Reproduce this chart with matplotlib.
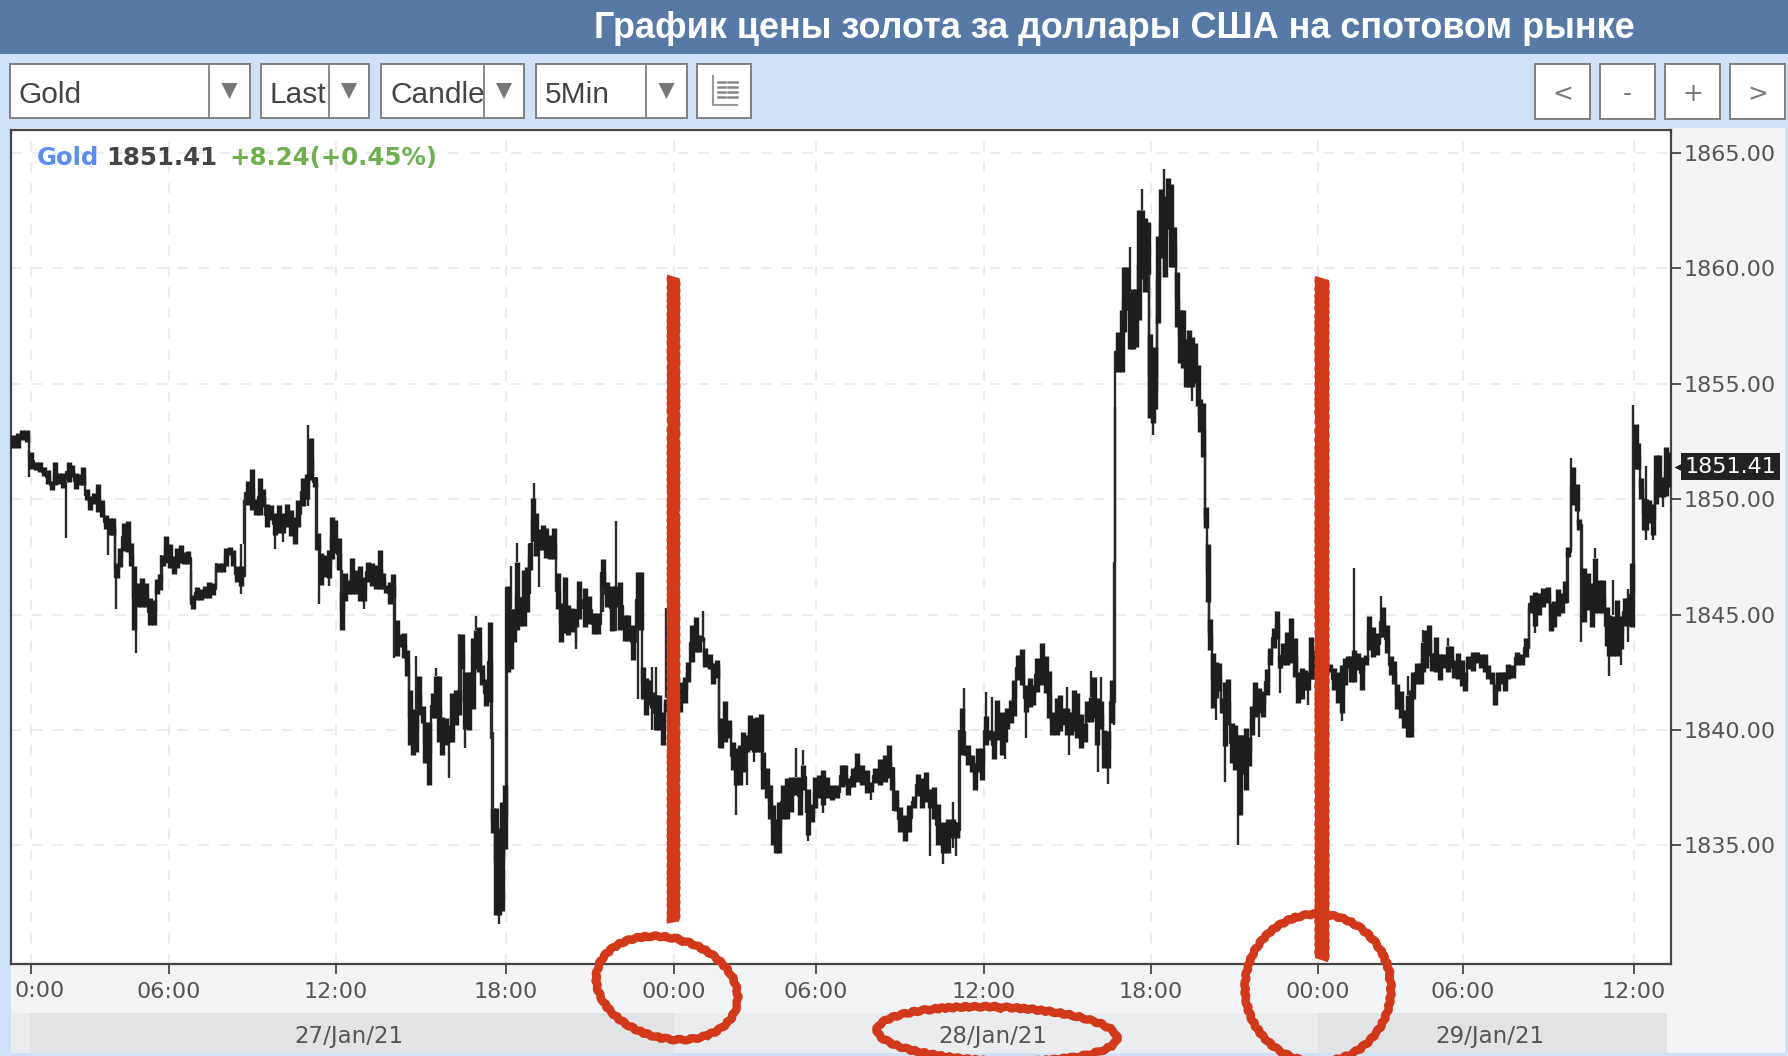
import matplotlib
matplotlib.use('Agg')
import matplotlib.pyplot as plt
from matplotlib.patches import Rectangle, Ellipse, Polygon

# chart values
# x is a time slot along the category axis (sessions have gaps, so ticks are uneven)
tick_slots = [31, 169, 336, 506, 674, 816, 984, 1151, 1318, 1463, 1634]
tick_labels = ['', '06:00', '12:00', '18:00', '00:00', '06:00', '12:00', '18:00', '00:00', '06:00', '12:00']
price_ticks = [1835, 1840, 1845, 1850, 1855, 1860, 1865]
price_min, price_max = 1829.86, 1866.0
slot_min, slot_max = 11, 1671
day_edges = [30, 674, 1318, 1667]
day_labels = ['27/Jan/21', '28/Jan/21', '29/Jan/21']
last_price = 1851.41
change_text = '+8.24(+0.45%)'

bar_x = [13, 18, 22, 27, 31, 36, 40, 44, 48, 52,
         55, 59, 63, 69, 72, 76, 80, 83, 87, 90,
         94, 98, 102, 106, 110, 113, 117, 120, 124, 128,
         131, 134, 138, 142, 146, 150, 154, 157, 160, 163,
         166, 170, 174, 177, 181, 184, 188, 193, 197, 201,
         205, 209, 213, 219, 223, 226, 230, 233, 237, 241,
         248, 252, 256, 260, 263, 267, 271, 275, 279, 283,
         287, 291, 295, 298, 303, 307, 311, 315, 318, 321,
         325, 329, 332, 335, 339, 342, 345, 349, 352, 356,
         360, 364, 368, 372, 376, 380, 383, 386, 390, 393,
         397, 400, 404, 407, 410, 413, 416, 419, 423, 425,
         429, 433, 436, 439, 442, 446, 449, 452, 456, 459,
         462, 465, 469, 473, 476, 479, 482, 486, 490, 493,
         496, 499, 502, 505, 508, 511, 514, 517, 520, 524,
         527, 530, 533, 536, 539, 543, 546, 550, 554, 558,
         561, 565, 568, 572, 576, 579, 585, 589, 594, 598,
         603, 607, 612, 616, 620, 625, 628, 633, 638, 641,
         643, 646, 649, 652, 656, 659, 663, 666, 669, 672,
         676, 680, 682, 685, 688, 692, 696, 699, 702, 705,
         710, 713, 717, 721, 725, 729, 733, 736, 740, 743,
         747, 750, 754, 757, 761, 763, 767, 770, 773, 776,
         779, 783, 787, 791, 796, 800, 803, 808, 812, 815,
         819, 823, 827, 832, 837, 842, 845, 848, 853, 857,
         862, 867, 871, 875, 880, 885, 889, 892, 896, 900,
         905, 909, 914, 918, 922, 926, 930, 934, 938, 943,
         948, 953, 957, 962, 968, 972, 975, 978, 982, 986,
         990, 994, 997, 1002, 1005, 1007, 1011, 1014, 1018, 1022,
         1026, 1030, 1033, 1037, 1042, 1046, 1049, 1052, 1057, 1060,
         1063, 1067, 1071, 1074, 1077, 1081, 1085, 1087, 1091, 1094,
         1097, 1101, 1104, 1108, 1112, 1118, 1122, 1124, 1127, 1130,
         1133, 1136, 1139, 1142, 1145, 1148, 1150, 1153, 1155, 1158,
         1161, 1165, 1168, 1171, 1174, 1177, 1180, 1183, 1186, 1189,
         1192, 1195, 1198, 1200, 1203, 1206, 1208, 1210, 1213, 1216,
         1219, 1222, 1225, 1228, 1232, 1235, 1238, 1240, 1243, 1246,
         1249, 1252, 1255, 1259, 1263, 1267, 1270, 1274, 1277, 1280,
         1283, 1287, 1291, 1295, 1298, 1302, 1305, 1308, 1311, 1314,
         1317, 1321, 1326, 1330, 1334, 1338, 1342, 1345, 1348, 1351,
         1354, 1358, 1362, 1366, 1369, 1373, 1377, 1383, 1387, 1391,
         1394, 1397, 1401, 1404, 1408, 1411, 1413, 1417, 1421, 1423,
         1426, 1429, 1432, 1436, 1440, 1443, 1448, 1451, 1454, 1458,
         1462, 1465, 1468, 1473, 1477, 1481, 1485, 1488, 1492, 1495,
         1498, 1502, 1505, 1508, 1513, 1517, 1522, 1526, 1532, 1535,
         1539, 1543, 1548, 1551, 1554, 1558, 1562, 1565, 1568, 1573,
         1577, 1579, 1584, 1588, 1592, 1595, 1599, 1603, 1607, 1609,
         1613, 1617, 1621, 1625, 1628, 1632, 1636, 1638, 1641, 1644,
         1646, 1649, 1653, 1656, 1659, 1663, 1666, 1669]

bar_high = [1852.8, 1852.85, 1853.0, 1853.0, 1852.05, 1851.6, 1851.6, 1851.4, 1851.25, 1850.8,
            1851.6, 1851.15, 1851.15, 1851.6, 1851.5, 1851.15, 1851.1, 1851.4, 1850.45, 1850.15,
            1850.25, 1850.65, 1849.95, 1849.3, 1849.2, 1849.2, 1847.25, 1847.9, 1848.95, 1849.05,
            1848.1, 1847.1, 1846.35, 1846.6, 1846.35, 1845.7, 1845.65, 1846.55, 1846.75, 1847.6,
            1848.4, 1848.05, 1847.55, 1847.9, 1848.0, 1847.7, 1847.75, 1845.85, 1846.2, 1846.1,
            1846.25, 1846.4, 1846.35, 1847.25, 1847.25, 1847.9, 1847.95, 1847.8, 1847.1, 1847.1,
            1850.8, 1851.3, 1850.0, 1850.9, 1850.45, 1849.8, 1849.75, 1849.4, 1849.75, 1849.4,
            1849.8, 1849.55, 1849.25, 1849.95, 1850.9, 1851.1, 1852.65, 1850.95, 1848.55, 1847.65,
            1847.6, 1847.8, 1849.25, 1849.1, 1848.3, 1846.0, 1846.8, 1846.5, 1847.45, 1846.95,
            1847.1, 1846.65, 1847.3, 1847.25, 1847.15, 1847.8, 1846.8, 1846.3, 1846.4, 1846.75,
            1844.75, 1844.15, 1844.2, 1843.45, 1841.75, 1840.9, 1840.9, 1842.35, 1841.05, 1840.35,
            1840.35, 1841.6, 1842.35, 1842.35, 1840.55, 1840.5, 1840.2, 1841.6, 1841.75, 1841.75,
            1844.15, 1842.5, 1842.5, 1844.0, 1844.35, 1844.45, 1842.8, 1842.2, 1844.7, 1836.6,
            1836.6, 1835.75, 1836.9, 1837.6, 1846.25, 1845.25, 1845.25, 1847.3, 1845.75, 1846.95,
            1847.05, 1848.1, 1850.05, 1849.4, 1848.7, 1848.9, 1848.75, 1848.45, 1848.75, 1846.8,
            1845.5, 1846.65, 1845.4, 1845.3, 1845.1, 1846.45, 1846.15, 1845.8, 1845.05, 1845.05,
            1847.4, 1846.4, 1846.25, 1846.25, 1846.4, 1845.0, 1845.0, 1844.55, 1846.85, 1846.85,
            1842.75, 1842.25, 1842.15, 1841.65, 1841.5, 1841.5, 1840.8, 1841.35, 1844.25, 1843.1,
            1842.25, 1842.1, 1841.95, 1842.3, 1842.95, 1844.55, 1844.9, 1844.1, 1844.05, 1843.55,
            1843.3, 1842.9, 1843.05, 1840.5, 1841.25, 1840.45, 1839.5, 1839.2, 1839.35, 1839.9,
            1839.8, 1840.65, 1840.5, 1840.55, 1840.7, 1839.05, 1838.35, 1837.6, 1836.75, 1836.15,
            1836.9, 1837.6, 1837.9, 1837.95, 1837.95, 1837.95, 1838.5, 1837.45, 1836.8, 1837.95,
            1838.05, 1838.25, 1837.95, 1837.6, 1837.6, 1838.5, 1838.5, 1837.9, 1838.35, 1839.0,
            1838.5, 1838.25, 1837.75, 1838.35, 1838.75, 1838.9, 1839.35, 1838.4, 1837.4, 1836.65,
            1836.3, 1836.75, 1837.15, 1838.1, 1837.9, 1838.2, 1837.45, 1837.55, 1836.8, 1836.0,
            1836.15, 1836.15, 1836.0, 1840.95, 1839.35, 1838.9, 1838.55, 1839.2, 1839.2, 1840.6,
            1840.0, 1839.95, 1841.3, 1840.8, 1840.45, 1840.95, 1841.3, 1842.15, 1843.25, 1843.5,
            1841.95, 1842.25, 1841.95, 1843.1, 1843.75, 1843.2, 1842.55, 1840.8, 1841.4, 1841.5,
            1840.95, 1840.95, 1840.8, 1841.75, 1841.6, 1840.7, 1840.3, 1841.25, 1841.45, 1842.3,
            1841.4, 1841.25, 1840.0, 1839.95, 1842.15, 1857.25, 1858.2, 1860.05, 1860.05, 1859.0,
            1859.1, 1859.1, 1862.55, 1862.55, 1862.2, 1862.0, 1857.15, 1856.4, 1856.6, 1861.4,
            1863.45, 1863.15, 1863.9, 1863.65, 1861.8, 1859.85, 1858.2, 1858.2, 1856.95, 1857.35,
            1857.05, 1856.75, 1855.8, 1854.35, 1854.15, 1849.65, 1848.05, 1844.8, 1843.35, 1842.95,
            1842.9, 1841.4, 1842.1, 1842.2, 1840.3, 1840.2, 1839.8, 1839.8, 1839.8, 1840.1,
            1839.7, 1841.05, 1842.1, 1841.8, 1841.7, 1842.65, 1843.55, 1844.4, 1845.15, 1843.25,
            1843.75, 1844.25, 1844.85, 1844.0, 1842.5, 1842.7, 1842.6, 1842.5, 1844.05, 1843.45,
            1842.7, 1843.45, 1843.55, 1842.85, 1842.7, 1842.5, 1842.8, 1843.1, 1843.2, 1843.2,
            1843.45, 1843.35, 1843.15, 1843.25, 1844.95, 1844.45, 1844.2, 1845.35, 1844.55, 1843.2,
            1843.0, 1842.0, 1841.7, 1840.85, 1841.5, 1841.75, 1842.5, 1842.9, 1842.9, 1843.8,
            1844.35, 1844.55, 1843.35, 1844.05, 1843.3, 1843.3, 1843.65, 1843.65, 1843.05, 1843.35,
            1843.05, 1842.5, 1843.2, 1843.4, 1843.4, 1843.3, 1843.3, 1842.8, 1842.5, 1842.0,
            1842.5, 1842.5, 1842.5, 1842.85, 1842.8, 1843.4, 1843.3, 1844.0, 1845.85, 1846.0,
            1845.95, 1846.15, 1846.2, 1845.5, 1845.6, 1846.1, 1845.95, 1846.45, 1847.95, 1851.4,
            1850.65, 1849.15, 1847.0, 1846.8, 1846.35, 1847.45, 1846.5, 1846.5, 1845.35, 1845.0,
            1844.95, 1845.65, 1844.95, 1845.7, 1845.7, 1847.25, 1853.25, 1852.45, 1850.9, 1850.05,
            1850.0, 1849.95, 1849.8, 1851.9, 1851.9, 1850.95, 1852.25, 1852.05]

bar_low = [1852.2, 1852.2, 1852.55, 1852.5, 1851.3, 1851.25, 1851.2, 1851.0, 1850.65, 1850.4,
           1850.6, 1850.65, 1850.5, 1850.75, 1850.95, 1850.45, 1850.6, 1850.6, 1849.95, 1849.55,
           1849.8, 1849.45, 1849.25, 1848.7, 1848.45, 1848.45, 1846.6, 1847.05, 1847.75, 1847.7,
           1847.1, 1844.35, 1845.35, 1845.35, 1845.35, 1844.55, 1844.55, 1845.9, 1846.05, 1847.1,
           1847.25, 1847.0, 1846.75, 1847.0, 1847.25, 1847.2, 1847.2, 1845.25, 1845.65, 1845.65,
           1845.7, 1845.7, 1845.85, 1846.85, 1846.85, 1847.1, 1847.6, 1847.1, 1846.4, 1846.25,
           1849.75, 1849.55, 1849.3, 1849.3, 1849.65, 1848.8, 1849.1, 1848.45, 1848.55, 1848.55,
           1848.8, 1848.4, 1848.05, 1848.8, 1849.7, 1850.0, 1850.85, 1850.55, 1847.8, 1846.3,
           1846.65, 1846.6, 1847.4, 1847.65, 1846.95, 1844.35, 1845.6, 1845.9, 1845.9, 1845.9,
           1845.6, 1845.6, 1846.4, 1846.25, 1846.1, 1846.1, 1846.1, 1845.95, 1845.45, 1845.75,
           1843.2, 1843.6, 1843.1, 1842.35, 1839.35, 1838.9, 1839.05, 1840.65, 1840.3, 1838.55,
           1837.6, 1840.5, 1840.5, 1839.5, 1838.9, 1839.35, 1839.5, 1839.5, 1840.2, 1840.65,
           1842.65, 1840.05, 1840.0, 1840.9, 1842.65, 1842.5, 1841.95, 1841.05, 1841.2, 1835.55,
           1832.0, 1832.0, 1832.15, 1834.85, 1842.5, 1842.65, 1843.8, 1844.35, 1844.5, 1844.5,
           1845.1, 1846.95, 1848.2, 1847.55, 1847.8, 1847.8, 1847.45, 1847.4, 1847.4, 1845.25,
           1843.8, 1844.2, 1844.1, 1844.25, 1844.45, 1844.8, 1844.45, 1844.6, 1844.15, 1844.15,
           1846.2, 1845.35, 1844.3, 1845.35, 1844.35, 1843.85, 1843.85, 1843.05, 1844.4, 1844.35,
           1841.35, 1840.65, 1841.1, 1840.95, 1840.0, 1840.0, 1839.35, 1840.8, 1842.1, 1841.35,
           1840.95, 1840.8, 1841.2, 1841.15, 1842.1, 1842.95, 1843.4, 1843.4, 1843.85, 1842.75,
           1842.65, 1842.0, 1842.25, 1839.2, 1839.5, 1839.65, 1838.25, 1837.6, 1837.6, 1838.2,
           1839.05, 1839.15, 1839.05, 1839.05, 1839.05, 1837.45, 1837.05, 1836.15, 1835.0, 1834.65,
           1834.65, 1836.15, 1836.15, 1836.45, 1837.2, 1836.3, 1837.4, 1835.45, 1836.0, 1836.6,
           1837.05, 1836.75, 1837.05, 1836.95, 1837.05, 1837.55, 1837.6, 1837.2, 1837.55, 1837.75,
           1837.6, 1837.25, 1837.3, 1837.7, 1837.6, 1837.75, 1837.9, 1837.4, 1836.5, 1835.6,
           1835.2, 1835.6, 1836.6, 1837.15, 1836.6, 1836.9, 1836.6, 1836.15, 1835.0, 1834.65,
           1834.65, 1835.3, 1835.3, 1838.9, 1838.5, 1838.2, 1837.4, 1838.2, 1837.85, 1839.35,
           1839.55, 1838.75, 1839.55, 1838.9, 1839.5, 1840.05, 1840.3, 1840.6, 1842.15, 1841.95,
           1840.8, 1841.0, 1841.1, 1841.65, 1841.95, 1841.6, 1840.5, 1839.8, 1839.8, 1839.95,
           1840.2, 1839.8, 1839.8, 1839.95, 1839.65, 1839.2, 1839.5, 1840.35, 1840.35, 1840.5,
           1839.35, 1840.05, 1838.35, 1838.35, 1840.3, 1855.5, 1855.5, 1857.25, 1858.2, 1856.5,
           1856.5, 1856.6, 1857.75, 1859.55, 1859.0, 1859.75, 1853.5, 1853.3, 1853.9, 1857.65,
           1860.45, 1859.65, 1861.7, 1860.05, 1860.05, 1857.45, 1855.9, 1855.7, 1854.85, 1854.85,
           1854.85, 1855.05, 1854.05, 1852.9, 1851.85, 1848.75, 1845.55, 1843.45, 1840.95, 1841.4,
           1841.7, 1840.75, 1839.3, 1840.2, 1838.55, 1838.25, 1838.45, 1836.3, 1838.1, 1837.4,
           1838.45, 1839.8, 1840.55, 1840.75, 1840.55, 1841.5, 1842.8, 1843.55, 1843.95, 1842.7,
           1842.8, 1842.8, 1842.9, 1842.3, 1841.15, 1841.35, 1841.75, 1841.75, 1842.2, 1842.2,
           1841.65, 1842.1, 1842.4, 1842.5, 1841.75, 1841.15, 1840.75, 1841.95, 1842.7, 1842.1,
           1842.1, 1842.6, 1841.75, 1842.8, 1843.45, 1843.15, 1843.25, 1844.05, 1843.35, 1842.4,
           1842.0, 1840.9, 1840.5, 1840.1, 1839.7, 1839.7, 1841.35, 1842.0, 1842.0, 1842.5,
           1842.7, 1843.2, 1842.55, 1842.5, 1842.15, 1842.7, 1842.5, 1842.7, 1842.25, 1842.2,
           1841.9, 1841.7, 1842.65, 1842.55, 1842.9, 1842.7, 1842.5, 1842.2, 1842.0, 1841.1,
           1841.7, 1842.0, 1841.7, 1842.2, 1842.25, 1842.8, 1842.8, 1843.15, 1845.05, 1844.5,
           1845.0, 1845.35, 1845.5, 1844.3, 1844.45, 1844.95, 1845.05, 1845.5, 1847.5, 1849.75,
           1849.5, 1848.65, 1844.7, 1845.2, 1844.45, 1845.05, 1845.05, 1845.05, 1843.65, 1843.2,
           1843.2, 1843.2, 1843.5, 1844.5, 1844.5, 1844.45, 1851.3, 1851.3, 1850.0, 1848.65,
           1848.65, 1848.95, 1848.45, 1849.8, 1850.1, 1850.1, 1850.15, 1850.55]

wick_x = [29, 66, 108, 115, 116, 136, 161, 191, 216, 241,
          244, 275, 283, 308, 316, 319, 329, 342, 364, 394,
          409, 416, 436, 449, 459, 465, 476, 491, 493, 499,
          506, 511, 517, 530, 534, 539, 576, 576, 603, 616,
          638, 652, 656, 666, 703, 719, 736, 747, 754, 796,
          803, 808, 823, 871, 893, 930, 943, 953, 956, 959,
          964, 986, 992, 1005, 1026, 1067, 1069, 1091, 1098, 1101,
          1108, 1114, 1115, 1130, 1142, 1149, 1153, 1157, 1164, 1192,
          1205, 1209, 1216, 1225, 1238, 1259, 1280, 1308, 1317, 1342,
          1354, 1381, 1408, 1423, 1448, 1529, 1535, 1568, 1571, 1581,
          1595, 1609, 1613, 1621, 1628, 1633, 1646, 1653, 1663]

wick_high = [1852.1, 1850.75, 1849.1, 1848.7, 1846.6, 1846.1, 1847.6, 1846.9, 1847.25, 1848.05,
             1849.95, 1848.45, 1848.55, 1853.2, 1850.95, 1847.8, 1846.6, 1846.95, 1845.6, 1845.75,
             1842.35, 1843.2, 1842.7, 1839.5, 1844.15, 1840.05, 1844.95, 1841.2, 1839.9, 1832.0,
             1846.2, 1847.1, 1848.1, 1848.1, 1850.7, 1847.8, 1844.45, 1845.25, 1846.2, 1849.05,
             1844.4, 1842.75, 1842.75, 1845.3, 1845.15, 1842.85, 1837.6, 1839.05, 1839.05, 1839.2,
             1839.15, 1835.45, 1836.75, 1837.3, 1838.4, 1836.6, 1834.65, 1836.9, 1836.0, 1840.0,
             1841.8, 1841.65, 1841.45, 1839.5, 1840.8, 1841.85, 1840.8, 1842.55, 1839.35, 1842.3,
             1838.35, 1847.3, 1854.0, 1860.95, 1863.45, 1859.75, 1853.3, 1857.95, 1864.3, 1854.85,
             1851.95, 1845.55, 1841.4, 1839.3, 1838.45, 1840.75, 1843.25, 1841.75, 1842.7, 1840.75,
             1847.0, 1845.8, 1842.35, 1844.35, 1844.0, 1845.3, 1844.5, 1847.5, 1851.8, 1848.65,
             1847.9, 1843.2, 1846.5, 1843.5, 1846.1, 1854.1, 1851.45, 1848.45, 1850.1]

wick_low = [1850.95, 1848.3, 1847.6, 1846.6, 1845.25, 1843.35, 1846.05, 1845.4, 1846.3, 1845.9,
            1848.05, 1847.85, 1848.15, 1849.7, 1847.8, 1845.45, 1846.25, 1844.35, 1845.25, 1843.1,
            1841.75, 1840.9, 1842.35, 1837.9, 1840.65, 1839.2, 1844.35, 1839.6, 1836.6, 1831.6,
            1837.5, 1845.25, 1847.3, 1845.9, 1850.0, 1846.2, 1843.8, 1843.5, 1845.1, 1844.3,
            1841.35, 1840.0, 1840.0, 1841.4, 1843.85, 1839.2, 1836.3, 1837.6, 1838.6, 1837.95,
            1838.5, 1835.2, 1836.4, 1836.95, 1836.5, 1834.55, 1834.2, 1834.9, 1834.55, 1835.3,
            1839.35, 1839.35, 1839.5, 1838.75, 1839.65, 1839.8, 1838.9, 1841.45, 1838.2, 1840.05,
            1837.65, 1840.2, 1847.3, 1859.0, 1862.55, 1853.5, 1852.8, 1854.65, 1859.65, 1854.25,
            1848.85, 1844.25, 1840.45, 1837.75, 1835.0, 1839.7, 1841.6, 1841.1, 1841.2, 1840.4,
            1842.1, 1844.0, 1841.5, 1843.8, 1843.65, 1843.5, 1844.2, 1845.5, 1847.95, 1843.8,
            1847.45, 1842.35, 1845.0, 1842.8, 1843.8, 1845.9, 1848.25, 1848.25, 1849.65]

W, H = 1788, 1056
PANEL = '#f3f4f6'
TOOLBAR = '#d0e1f7'
FRAME = '#444444'
BOX = '#808080'
RED = '#d2391b'

fig = plt.figure(figsize=(W / 100, H / 100), dpi=100, facecolor=TOOLBAR)


def pixel_axes(zorder):
    # full-figure axes measured in pixels, for the page furniture round the chart
    a = fig.add_axes([0, 0, 1, 1], zorder=zorder)
    a.set_xlim(0, W)
    a.set_ylim(H, 0)
    a.axis('off')
    return a


back = pixel_axes(0)
over = pixel_axes(5)

# header and panels
back.add_patch(Rectangle((0, 0), W, 54, fc='#5679a5', ec='none'))
back.add_patch(Rectangle((11, 128), 1774, 925, fc=PANEL, ec='none'))
back.text(1114, 28, 'График цены золота за доллары США на спотовом рынке', color='white',
          fontsize=25.9, fontweight='bold', family='Liberation Sans', ha='center', va='center')

# day bands under the time axis
back.add_patch(Rectangle((11, 1013), day_edges[0] - 11, 40, fc='#ebecee', ec='none'))
for i, lab in enumerate(day_labels):
    shade = '#ebecee' if i == 1 else '#e2e3e5'
    back.add_patch(Rectangle((day_edges[i], 1013), day_edges[i + 1] - day_edges[i], 40, fc=shade, ec='none'))
    back.text((day_edges[i] + day_edges[i + 1]) / 2 - 3, 1036, lab,
              color='#555555', fontsize=16.5, ha='center', va='center')

# toolbar drop-downs: left, divider, right, label
for left, div, right, lab in [(10, 209, 250, 'Gold'), (261, 329, 369, 'Last'),
                              (381, 484, 524, 'Candle'), (536, 646, 687, '5Min')]:
    back.add_patch(Rectangle((left, 64), right - left, 54, fc='white', ec=BOX, lw=1.4))
    back.plot([div, div], [64, 118], color=BOX, lw=1.3)
    back.text(left + 9, 95, lab, color='#444444', fontsize=21.5, family='Liberation Sans', ha='left', va='center')
    mid = (div + right) / 2
    back.add_patch(Polygon([(mid - 8, 83), (mid + 8, 83), (mid, 99)], fc='#777777', ec='none'))

back.add_patch(Rectangle((697, 64), 54, 54, fc='white', ec=BOX, lw=1.4))
back.plot([713, 713, 737], [76, 105, 105], color='#999999', lw=1.5)
for row in [82, 87, 92, 97]:
    back.plot([718, 725], [row, row], color='#888888', lw=1.8)
    back.plot([728, 737], [row, row], color='#888888', lw=1.8)

for left, sym in [(1535, '<'), (1600, '-'), (1665, '+'), (1730, '>')]:
    back.add_patch(Rectangle((left, 64), 55, 55, fc='white', ec=BOX, lw=1.4))
    back.text(left + 27.5, 94, sym, color='#777777', fontsize=18, ha='center', va='center')

# price chart
ax = fig.add_axes([slot_min / W, 1 - 964 / H, (slot_max - slot_min) / W, (964 - 130) / H], zorder=2)
ax.set_facecolor('white')
ax.set_xlim(slot_min, slot_max)
ax.set_ylim(price_min, price_max)
ax.set_axisbelow(True)
ax.grid(True, color='#ececec', lw=1.5, linestyle=(0, (5, 5)))

# thin stepped line ties the candles together where one jumps away from the next
bar_mid = [(h + l) / 2 for h, l in zip(bar_high, bar_low)]
ax.plot(bar_x, bar_mid, drawstyle='steps-mid', color='#2a2a2a', lw=1.7, zorder=3)
ax.vlines(wick_x, wick_low, wick_high, color='#2a2a2a', lw=1.7, capstyle='butt', zorder=3)
ax.vlines(bar_x, bar_low, bar_high, color='#1e1e1e', lw=3.9, capstyle='butt', zorder=3)

ax.set_xticks(tick_slots)
ax.set_xticklabels(tick_labels)
ax.set_yticks(price_ticks)
ax.set_yticklabels([f'{p:.2f}' for p in price_ticks])
ax.yaxis.tick_right()
ax.tick_params(axis='both', length=7, width=1.3, color=FRAME, labelcolor='#555555', labelsize=16, pad=2)
ax.tick_params(axis='x', pad=6)
for s in ax.spines.values():
    s.set_color(FRAME)
    s.set_linewidth(1.6)

# last price flag on the price scale
ax.annotate(f'{last_price:.2f}', xy=(1, last_price), xycoords=ax.get_yaxis_transform(),
            xytext=(9.5, 0), textcoords='offset points', color='white', fontsize=16,
            va='center', ha='left', annotation_clip=False,
            bbox=dict(boxstyle='square,pad=0.16', fc='#222222', ec='none'), zorder=6)
ax.plot([1.006], [last_price], marker='<', ms=10, color='#222222', mec='none',
        transform=ax.get_yaxis_transform(), clip_on=False, zorder=6)

# the partly cut first label and the quote line
over.text(14, 991, '0:00', color='#555555', fontsize=16, ha='left', va='center')
x_text = 37
for txt, col, width in [('Gold', '#5b8def', 69), (f'{last_price:.2f}', '#444444', 123), (change_text, '#6eaf50', 0)]:
    over.text(x_text, 158, txt, color=col, fontsize=17.6, fontweight='bold', ha='left', va='center')
    x_text += width

# hand-drawn red marks
for x0, top, bottom, lw in [(673, 276, 922, 9), (1322, 278, 960, 10)]:
    line = over.plot([x0, x0], [top, bottom], color=RED, lw=lw, solid_capstyle='butt')[0]
    line.set_sketch_params(0.8, 8, 2)
for cx, cy, w, h, ang in [(667, 988, 144, 100, 15), (997, 1034, 240, 54, 2), (1318, 988, 148, 146, 80)]:
    e = Ellipse((cx, cy), w, h, angle=ang, fill=False, ec=RED, lw=6)
    e.set_sketch_params(0.8, 10, 2)
    over.add_patch(e)

fig.savefig('out.png', dpi=100, facecolor=fig.get_facecolor())
